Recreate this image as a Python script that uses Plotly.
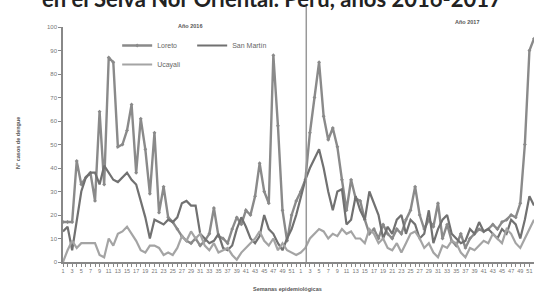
import plotly.graph_objects as go

# ---- data ----
semanas_2016 = list(range(1, 53))
semanas_2017 = list(range(1, 53))

loreto_2016 = [17, 17, 17, 43, 33, 36, 38, 26, 64, 33, 87, 85, 49, 50, 56, 67, 38, 61, 48, 29,
               55, 21, 32, 19, 17, 14, 11, 9, 8, 10, 7, 9, 12, 23, 11, 10, 8, 14, 19, 16,
               22, 20, 28, 42, 30, 25, 88, 58, 22, 9, 20, 26]
loreto_2017 = [30, 35, 55, 70, 85, 62, 52, 57, 49, 35, 22, 35, 27, 26, 18, 12, 14, 10, 16, 12,
               10, 14, 12, 18, 22, 32, 20, 14, 18, 15, 25, 10, 16, 9, 7, 12, 6, 10, 12, 14,
               13, 14, 16, 14, 17, 18, 20, 19, 25, 50, 90, 95]

san_martin_2016 = [13, 15, 5, 18, 30, 36, 38, 38, 33, 41, 38, 35, 34, 36, 38, 35, 33, 26, 19, 10,
                   18, 17, 16, 18, 17, 19, 25, 26, 24, 24, 12, 10, 8, 9, 12, 6, 5, 7, 14, 19,
                   15, 10, 8, 11, 20, 14, 12, 8, 5, 10, 14, 20]
san_martin_2017 = [28, 35, 40, 44, 48, 40, 30, 22, 30, 31, 16, 18, 28, 22, 18, 30, 25, 20, 10, 15,
                   12, 18, 20, 12, 18, 16, 10, 12, 22, 8, 14, 18, 20, 12, 10, 8, 9, 14, 12, 17,
                   13, 14, 12, 10, 14, 12, 18, 16, 10, 18, 28, 24]

ucayali_2016 = [0, 5, 9, 6, 8, 8, 8, 8, 3, 2, 10, 7, 12, 13, 15, 12, 9, 5, 4, 7,
                7, 6, 3, 4, 3, 6, 11, 9, 13, 10, 12, 7, 5, 8, 4, 5, 6, 3, 1, 4,
                6, 8, 10, 13, 9, 7, 10, 5, 8, 5, 4, 3]
ucayali_2017 = [4, 6, 10, 12, 14, 13, 10, 12, 11, 14, 12, 13, 10, 10, 8, 14, 12, 8, 10, 6,
                5, 8, 4, 8, 12, 13, 10, 6, 8, 4, 2, 7, 6, 9, 8, 4, 2, 6, 5, 7,
                9, 8, 12, 10, 8, 14, 12, 8, 6, 10, 14, 18]

etiquetas = [str(w) if w % 2 == 1 else "" for w in semanas_2016 + semanas_2017]
x_idx = list(range(1, len(etiquetas) + 1))

font_fam = "Liberation Sans"

fig = go.Figure()
fig.add_trace(go.Scatter(
    x=x_idx, y=loreto_2016 + loreto_2017, name="Loreto", mode="lines+markers",
    line=dict(color="#8a8a8a", width=2.4), marker=dict(symbol="diamond", size=3, color="#8a8a8a"),
    legend="legend"))
fig.add_trace(go.Scatter(
    x=x_idx, y=san_martin_2016 + san_martin_2017, name="San Martín", mode="lines",
    line=dict(color="#717171", width=2.2), legend="legend"))
fig.add_trace(go.Scatter(
    x=x_idx, y=ucayali_2016 + ucayali_2017, name="Ucayali", mode="lines",
    line=dict(color="#a4a4a4", width=2.2), legend="legend2"))

n = len(x_idx)
fig.update_layout(
    width=534, height=302,
    margin=dict(l=63, r=0, t=27, b=40),
    paper_bgcolor="white", plot_bgcolor="white",
    font=dict(family=font_fam, size=6, color="#666"),
    showlegend=True,
    legend=dict(orientation="h", x=0.115, y=1.0 - (31 - 27) / 235, xanchor="left", yanchor="top",
                font=dict(size=7, color="#666"), itemwidth=30, entrywidth=30,
                bgcolor="rgba(0,0,0,0)"),
    legend2=dict(orientation="h", x=0.115, y=1.0 - (50 - 27) / 235, xanchor="left", yanchor="top",
                 font=dict(size=7, color="#666"), itemwidth=30,
                 bgcolor="rgba(0,0,0,0)"),
    xaxis=dict(range=[1, n], tickmode="array", tickvals=x_idx, ticktext=etiquetas,
               tickangle=0, ticks="outside", ticklen=3, tickcolor="#888",
               showline=True, linecolor="#888", linewidth=1.5, showgrid=False, zeroline=False,
               tickfont=dict(size=5.5, color="#777")),
    yaxis=dict(range=[0, 100], dtick=10, ticks="outside", ticklen=3, tickcolor="#888",
               showline=True, linecolor="#888", linewidth=1.5, showgrid=False, zeroline=False,
               tickfont=dict(size=6, color="#777")),
)

# vertical separator between years
fig.add_shape(type="line", xref="x", yref="paper", x0=54.2, x1=54.2, y0=0, y1=1.09,
              line=dict(color="#999", width=1.5))

# title (partially cut at the top)
fig.add_annotation(text="<b>en el Selva Nor Oriental. Perú, años 2016-2017</b>",
                   xref="paper", yref="paper", x=(272 - 63) / 471, y=1.123,
                   xanchor="center", yanchor="middle", showarrow=False,
                   font=dict(family="Lato", size=22, color="#222"))
fig.add_annotation(text="<b>Año 2016</b>", xref="x", yref="paper", x=28.8, y=(262 - 21) / 235,
                   showarrow=False, font=dict(size=5.5, color="#555"))
fig.add_annotation(text="<b>Año 2017</b>", xref="x", yref="paper", x=89.4, y=(262 - 17) / 235,
                   showarrow=False, font=dict(size=5.5, color="#555"))
fig.add_annotation(text="<b>N° casos de dengue</b>", xref="paper", yref="paper",
                   x=(18 - 63) / 471, y=(262 - 143) / 235, textangle=-90,
                   xanchor="center", yanchor="middle",
                   showarrow=False, font=dict(size=5.5, color="#555"))
fig.add_annotation(text="<b>Semanas epidemiológicas</b>", xref="x", yref="paper",
                   x=50.2, y=(262 - 294) / 235,
                   showarrow=False, font=dict(size=5.5, color="#555"))

fig.write_html("out.html", config={"displayModeBar": False},
               post_script="document.body.style.margin='0';")
